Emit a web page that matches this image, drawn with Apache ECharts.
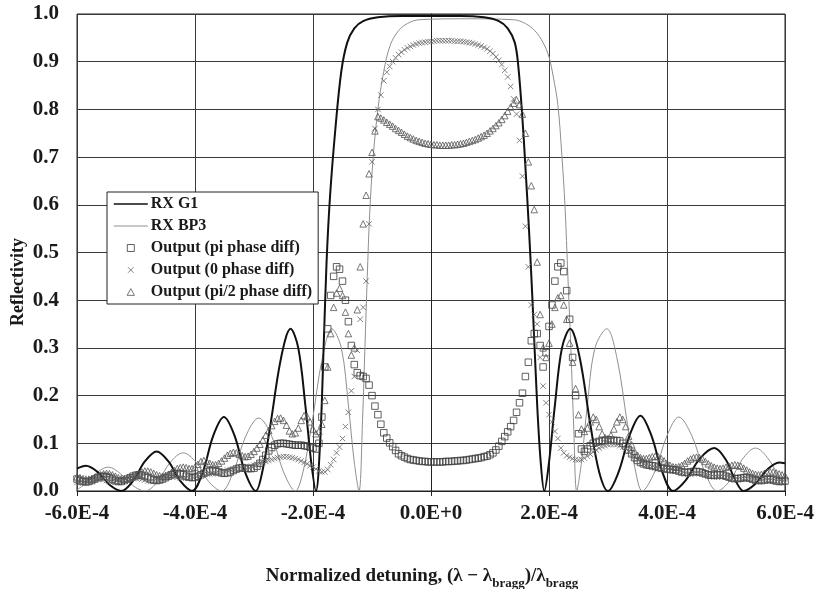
<!DOCTYPE html>
<html>
<head>
<meta charset="utf-8">
<script src="https://cdn.jsdelivr.net/npm/echarts@6/dist/echarts.min.js"></script>
<style>
  html, body { margin: 0; padding: 0; background: #fff; }
  #chart { width: 821px; height: 589px; }
</style>
</head>
<body>
<div id="chart"></div>
<script>
// Detuning values are stored in units of 1E-4.
const xTickValues = [-6, -4, -2, 0, 2, 4, 6];
const xTickLabels = ['-6.0E-4', '-4.0E-4', '-2.0E-4', '0.0E+0', '2.0E-4', '4.0E-4', '6.0E-4'];

// Reflectivity spectra of the two gratings: [detuning, reflectivity]
const rxG1 = [
  [-6.0, .047], [-5.85, .053], [-5.65, .040], [-5.45, .013], [-5.25, 0],
  [-5.05, .021], [-4.85, .062], [-4.65, .083], [-4.45, .062], [-4.25, .021], [-4.05, 0],
  [-3.87, .039], [-3.69, .116], [-3.51, .155], [-3.33, .116], [-3.15, .039], [-2.97, 0],
  [-2.86, .04], [-2.72, .14], [-2.54, .28], [-2.38, .34], [-2.25, .30], [-2.13, .18], [-2.03, .06], [-1.95, 0],
  [-1.88, .10], [-1.82, .30], [-1.77, .48], [-1.71, .62], [-1.62, .76], [-1.52, .88], [-1.42, .94],
  [-1.30, .97], [-1.15, .985], [-0.90, .993], [-0.50, .996], [0, .996], [0.50, .996], [0.90, .993],
  [1.15, .985], [1.30, .97], [1.42, .94], [1.48, .89], [1.55, .78], [1.60, .68], [1.66, .55],
  [1.72, .40], [1.80, .18], [1.86, .06], [1.92, 0],
  [2.00, .06], [2.10, .18], [2.22, .30], [2.36, .34], [2.52, .28], [2.70, .14], [2.85, .04], [3.00, 0],
  [3.18, .04], [3.37, .118], [3.55, .158], [3.73, .118], [3.92, .04], [4.10, 0],
  [4.32, .023], [4.55, .067], [4.80, .09], [5.00, .065], [5.16, .022], [5.30, 0],
  [5.50, .015], [5.70, .045], [5.90, .06], [6.00, .058]
];

const rxBP3 = [
  [-6.0, .003], [-5.89, .012], [-5.68, .037], [-5.47, .05], [-5.27, .037], [-5.06, .012], [-4.85, 0],
  [-4.63, .02], [-4.42, .06], [-4.20, .08], [-3.98, .06], [-3.77, .02], [-3.55, 0],
  [-3.35, .04], [-3.14, .115], [-2.92, .153], [-2.70, .115], [-2.50, .04], [-2.30, 0],
  [-2.17, .04], [-2.02, .14], [-1.84, .28], [-1.68, .34], [-1.52, .30], [-1.40, .18], [-1.30, .06], [-1.22, 0],
  [-1.16, .15], [-1.12, .30], [-1.08, .45], [-1.04, .58], [-0.98, .70], [-0.90, .80], [-0.80, .88],
  [-0.69, .935], [-0.55, .965], [-0.40, .98], [-0.20, .988], [0.60, .99], [1.40, .988], [1.60, .98],
  [1.76, .965], [1.90, .94], [2.00, .91], [2.07, .87], [2.15, .81], [2.22, .70], [2.27, .60],
  [2.32, .45], [2.37, .30], [2.42, .13], [2.47, 0],
  [2.55, .06], [2.65, .18], [2.78, .30], [2.98, .34], [3.15, .28], [3.33, .14], [3.47, .04], [3.58, 0],
  [3.79, .04], [4.00, .116], [4.20, .155], [4.42, .116], [4.64, .04], [4.85, 0],
  [5.07, .022], [5.28, .067], [5.50, .09], [5.72, .067], [5.93, .022], [6.00, .012]
];

// Output spectra, sampled every 0.05E-4 from -6.0E-4 to 6.0E-4 (one row = 1E-4)
const sampleStart = -6.0;
const sampleStep = 0.05;

const piPhase = [
  .025,.022,.020,.019,.020,.022,.025,.028,.030,.031, .030,.028,.025,.022,.020,.020,.022,.025,.028,.031,
  .033,.034,.033,.031,.028,.025,.023,.022,.023,.025, .028,.031,.034,.036,.037,.036,.034,.031,.029,.028,
  .029,.031,.034,.037,.040,.042,.043,.042,.040,.038, .037,.038,.040,.043,.046,.048,.049,.048,.047,.047,
  .048,.052,.058,.066,.075,.084,.091,.096,.099,.100, .100,.099,.098,.097,.096,.096,.096,.095,.094,.092,
  .090,.088,.100,.155,.260,.340,.410,.450,.470,.465, .440,.400,.355,.305,.265,.248,.242,.240,.236,.222,
  .200,.178,.160,.140,.122,.111,.101,.093,.085,.078, .074,.071,.068,.066,.065,.064,.063,.062,.062,.061,
  .061,.061,.061,.061,.061,.062,.062,.062,.063,.063, .064,.064,.065,.066,.067,.068,.069,.070,.072,.073,
  .076,.080,.086,.094,.104,.114,.124,.135,.148,.165, .185,.205,.240,.270,.315,.330,.330,.305,.260,.290,
  .345,.390,.440,.470,.478,.460,.420,.360,.280,.200, .120,.088,.083,.088,.095,.100,.102,.104,.105,.106,
  .107,.107,.106,.106,.105,.100,.094,.086,.078,.070, .064,.060,.057,.055,.054,.053,.052,.050,.048,.047,
  .046,.045,.045,.044,.042,.040,.039,.039,.040,.041, .041,.040,.038,.036,.034,.033,.033,.034,.034,.033,
  .031,.029,.027,.026,.026,.027,.028,.028,.027,.025, .023,.022,.022,.023,.024,.024,.023,.021,.020,.020,
  .021
];

const zeroPhase = [
  .018,.017,.017,.018,.020,.022,.024,.025,.025,.024, .022,.020,.019,.018,.018,.020,.022,.024,.026,.027,
  .027,.026,.025,.023,.021,.020,.020,.021,.023,.025, .027,.029,.030,.030,.029,.028,.027,.027,.028,.030,
  .032,.034,.035,.036,.036,.036,.036,.037,.038,.040, .042,.044,.045,.046,.046,.046,.047,.048,.050,.052,
  .054,.056,.058,.060,.062,.064,.066,.068,.070,.071, .072,.072,.071,.070,.068,.066,.063,.060,.057,.053,
  .050,.046,.042,.040,.040,.045,.055,.066,.080,.092, .110,.135,.165,.210,.240,.295,.360,.385,.440,.560,
  .690,.760,.800,.830,.860,.878,.890,.900,.908,.915, .920,.925,.929,.932,.935,.937,.939,.940,.941,.942,
  .942,.943,.944,.944,.944,.944,.944,.944,.943,.943, .943,.942,.941,.940,.939,.937,.935,.933,.930,.927,
  .922,.917,.910,.903,.894,.882,.868,.848,.822,.790, .735,.660,.555,.470,.390,.370,.350,.280,.220,.185,
  .160,.145,.125,.110,.090,.080,.074,.071,.068,.066, .065,.066,.069,.073,.077,.082,.086,.090,.093,.095,
  .097,.098,.098,.097,.095,.092,.088,.083,.078,.072, .067,.062,.058,.055,.052,.050,.048,.046,.045,.044,
  .043,.042,.042,.041,.040,.038,.036,.035,.035,.036, .037,.037,.036,.034,.032,.030,.029,.029,.030,.030,
  .029,.027,.025,.024,.024,.025,.026,.026,.025,.023, .021,.020,.020,.021,.022,.022,.021,.020,.019,.018,
  .018
];

const halfPiPhase = [
  .030,.028,.026,.025,.025,.026,.028,.031,.034,.036, .037,.036,.034,.031,.028,.026,.025,.026,.028,.031,
  .034,.037,.040,.042,.042,.040,.037,.034,.032,.031, .032,.035,.039,.043,.047,.049,.050,.049,.047,.047,
  .050,.056,.062,.064,.062,.058,.055,.055,.058,.063, .069,.075,.079,.081,.080,.077,.074,.072,.073,.077,
  .083,.090,.098,.107,.117,.127,.137,.146,.152,.153, .148,.138,.126,.120,.122,.132,.148,.158,.156,.145,
  .130,.120,.125,.140,.190,.260,.330,.385,.415,.425, .410,.375,.330,.285,.300,.380,.470,.560,.620,.665,
  .710,.755,.785,.782,.778,.773,.769,.765,.760,.756, .752,.748,.744,.741,.738,.735,.733,.731,.729,.728,
  .727,.726,.726,.725,.725,.725,.725,.726,.726,.727, .728,.729,.731,.733,.735,.737,.740,.743,.746,.750,
  .755,.760,.766,.772,.779,.787,.796,.805,.813,.820, .810,.790,.750,.690,.640,.590,.480,.370,.300,.280,
  .310,.350,.385,.405,.410,.390,.360,.310,.270,.215, .160,.130,.125,.132,.145,.155,.150,.135,.120,.112,
  .110,.117,.130,.145,.155,.150,.135,.115,.097,.083, .075,.070,.068,.068,.070,.072,.073,.072,.068,.063,
  .058,.054,.051,.050,.051,.054,.058,.063,.067,.070, .071,.070,.067,.062,.057,.053,.050,.048,.047,.048,
  .050,.052,.054,.055,.054,.052,.048,.044,.040,.037, .035,.034,.035,.037,.039,.040,.040,.038,.036,.034,
  .032
];

const seriesNames = ['RX G1', 'RX BP3', 'Output (pi phase diff)', 'Output (0 phase diff)', 'Output (pi/2 phase diff)'];

const toPoints = values => values.map((y, i) => [sampleStart + i * sampleStep, y]);

const serif = 'Liberation Serif, Times New Roman, serif';
const crossPath = 'path://M0,0L10,10M10,0L0,10';
// legend samples: the leading moves only pad the icon's bounding box
const lineIcon = 'path://M0,-7M34,7M0,0L34,0';

const chart = echarts.init(document.getElementById('chart'), null, { renderer: 'canvas' });

chart.setOption({
  animation: false,
  backgroundColor: '#ffffff',
  textStyle: { fontFamily: serif },
  grid: {
    left: 77, right: 36, top: 14, bottom: 98,
    show: true, borderColor: '#222', borderWidth: 1, backgroundColor: 'transparent'
  },
  xAxis: {
    type: 'value', min: -6, max: 6, interval: 2,
    axisLine: { show: true, lineStyle: { color: '#222', width: 1 } },
    axisTick: { show: true, length: 5, lineStyle: { color: '#222' } },
    splitLine: { show: true, lineStyle: { color: '#3a3a3a', width: 1 } },
    axisLabel: {
      show: true, margin: 12, showMinLabel: true, showMaxLabel: true,
      fontFamily: serif, fontWeight: 'bold', fontSize: 21, color: '#1a1a1a',
      formatter: v => xTickLabels[xTickValues.indexOf(Math.round(v))]
    }
  },
  yAxis: {
    type: 'value', min: 0, max: 1, interval: 0.1,
    axisLine: { show: true, lineStyle: { color: '#222', width: 1 } },
    axisTick: { show: false },
    splitLine: { show: true, lineStyle: { color: '#3a3a3a', width: 1 } },
    axisLabel: {
      margin: 18, fontFamily: serif, fontWeight: 'bold', fontSize: 21, color: '#1a1a1a',
      formatter: v => v.toFixed(1)
    }
  },
  legend: {
    orient: 'vertical', left: 107, top: 192,
    itemWidth: 34, itemHeight: 14, itemGap: 6,
    padding: [4, 6, 4, 6],
    backgroundColor: '#ffffff', borderColor: '#222', borderWidth: 1,
    selectedMode: false,
    itemStyle: { borderWidth: 1 },
    textStyle: { fontFamily: serif, fontWeight: 'bold', fontSize: 16, color: '#1a1a1a', padding: [0, 0, 0, -2] },
    data: [
      { name: seriesNames[0], icon: lineIcon, itemStyle: { color: 'rgba(0,0,0,0)', borderColor: '#111', borderWidth: 1.6 } },
      { name: seriesNames[1], icon: lineIcon, itemStyle: { color: 'rgba(0,0,0,0)', borderColor: '#8f8f8f', borderWidth: 1 } },
      { name: seriesNames[2], icon: 'path://M0,0M10,10M2.5,2.5L7.5,2.5L7.5,7.5L2.5,7.5Z' },
      { name: seriesNames[3], icon: 'path://M0,0M10,10M3,3L7,7M7,3L3,7' },
      { name: seriesNames[4], icon: 'path://M0,0M10,10M5,2.6L7.6,7.4L2.4,7.4Z' }
    ],
    z: 10
  },
  graphic: [
    {
      type: 'text', x: 18, y: 282, rotation: Math.PI / 2,
      style: {
        text: 'Reflectivity', fill: '#1a1a1a',
        font: 'bold 18px ' + serif, align: 'center', verticalAlign: 'middle'
      }
    },
    {
      type: 'text', x: 422, y: 576,
      style: {
        text: '{m|Normalized detuning, (λ − λ}{s|bragg}{m|)/λ}{s|bragg}',
        align: 'center', verticalAlign: 'middle', fill: '#1a1a1a',
        rich: {
          m: { fontFamily: serif, fontWeight: 'bold', fontSize: 19, lineHeight: 28, verticalAlign: 'middle', fill: '#1a1a1a' },
          s: { fontFamily: serif, fontWeight: 'bold', fontSize: 13, lineHeight: 17, verticalAlign: 'bottom', fill: '#1a1a1a' }
        }
      }
    }
  ],
  series: [
    {
      name: seriesNames[0], type: 'line', data: rxG1, smooth: 0.35, symbol: 'none',
      lineStyle: { color: '#111', width: 2 }, itemStyle: { color: '#111' }, z: 3
    },
    {
      name: seriesNames[1], type: 'line', data: rxBP3, smooth: 0.35, symbol: 'none',
      lineStyle: { color: '#8f8f8f', width: 1 }, itemStyle: { color: '#8f8f8f' }, z: 2
    },
    {
      name: seriesNames[2], type: 'scatter', data: toPoints(piPhase),
      symbol: 'rect', symbolSize: 6.5,
      itemStyle: { color: 'rgba(0,0,0,0)', borderColor: '#3a3a3a', borderWidth: 1 }, z: 4
    },
    {
      name: seriesNames[3], type: 'scatter', data: toPoints(zeroPhase),
      symbol: crossPath, symbolSize: 5.5,
      itemStyle: { color: 'rgba(0,0,0,0)', borderColor: '#666', borderWidth: 1 }, z: 4
    },
    {
      name: seriesNames[4], type: 'scatter', data: toPoints(halfPiPhase),
      symbol: 'triangle', symbolSize: 6.5,
      itemStyle: { color: 'rgba(0,0,0,0)', borderColor: '#555', borderWidth: 1 }, z: 4
    }
  ]
});
</script>
</body>
</html>
